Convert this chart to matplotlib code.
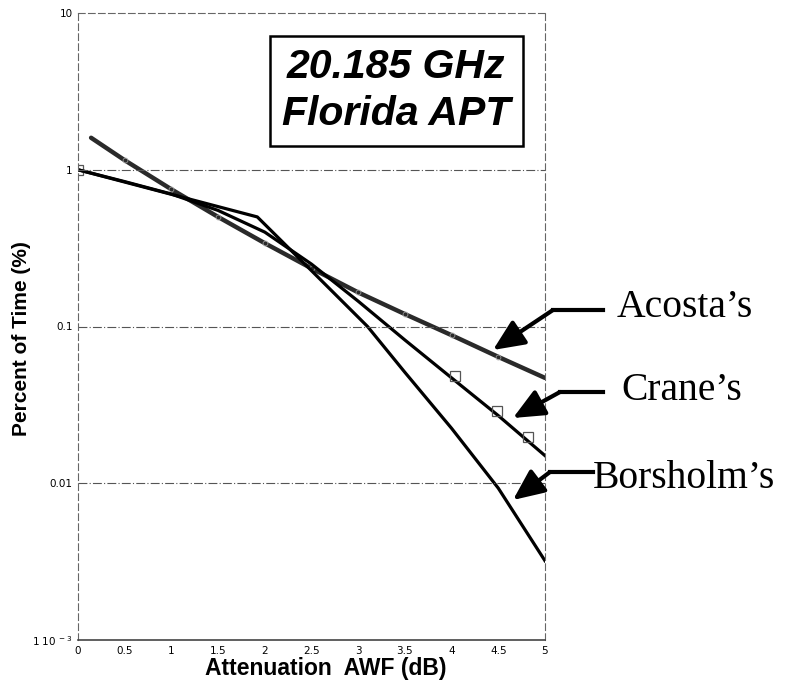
import numpy as np
import matplotlib
matplotlib.use("Agg")
import matplotlib.pyplot as plt
from matplotlib.lines import Line2D

# values (percent of time vs attenuation)
acosta_x = [0.14, 0.5, 1.0, 1.5, 2.0, 2.5, 3.0, 3.5, 4.0, 4.5, 5.0]
acosta_y = [1.6, 1.15, 0.75, 0.50, 0.34, 0.235, 0.165, 0.12, 0.088, 0.064, 0.047]

crane_x = [0.0, 0.5, 1.0, 1.5, 2.0, 2.5, 3.0, 3.5, 4.0, 4.5, 5.0]
crane_y = [1.0, 0.84, 0.70, 0.55, 0.40, 0.25, 0.145, 0.082, 0.047, 0.027, 0.015]
crane_pts_x = [0.0, 4.04, 4.49, 4.82]
crane_pts_y = [1.0, 0.048, 0.029, 0.0197]

bors_x = [0.0, 1.92, 2.5, 3.1, 3.5, 4.0, 4.5, 5.0]
bors_y = [1.0, 0.5, 0.227, 0.1, 0.051, 0.0224, 0.0093, 0.0032]

xticks = [0, 0.5, 1, 1.5, 2, 2.5, 3, 3.5, 4, 4.5, 5]
xtick_labels = ["0", "0.5", "1", "1.5", "2", "2.5", "3", "3.5", "4", "4.5", "5"]
yticks = [1e-3, 0.01, 0.1, 1, 10]
ytick_labels = [r"1 10$^{\ -3}$", "0.01", "0.1", "1", "10"]

fig = plt.figure(figsize=(7.85, 6.84), dpi=100)
ax = fig.add_axes([78/785, 1 - 640/684, 467/785, 627/684])

ax.plot(acosta_x, acosta_y, color="#2a2a2a", lw=3.2, solid_capstyle="round")
ax.plot(acosta_x[1:-1], acosta_y[1:-1], "o", ms=3.5, mfc="none", mec="#999999", mew=0.6)
ax.plot(crane_x, crane_y, color="black", lw=2.3)
ax.plot(crane_pts_x, crane_pts_y, "s", ms=7, mfc="none", mec="#555555", mew=0.9)
ax.plot(bors_x, bors_y, color="black", lw=2.3)

ax.set_yscale("log")
ax.set_xlim(0, 5)
ax.set_ylim(1e-3, 10)
ax.set_xticks(xticks)
ax.set_xticklabels(xtick_labels, fontsize=7.5)
ax.set_yticks(yticks)
ax.set_yticklabels(ytick_labels, fontsize=7.5)
ax.minorticks_off()
ax.tick_params(length=0, pad=4)
for v in [0.01, 0.1, 1]:
    ax.axhline(v, color="#555555", lw=0.8, ls=(0, (8, 2, 1, 2)))
for s in ["top", "left", "right"]:
    ax.spines[s].set_linestyle((0, (6, 3)))
    ax.spines[s].set_color("#666666")
    ax.spines[s].set_linewidth(0.8)
ax.spines["bottom"].set_color("#444444")
ax.spines["bottom"].set_linewidth(1.2)

ax.set_xlabel("Attenuation  AWF (dB)", fontsize=16.5, fontweight="bold",
              family="Liberation Sans", va="center")
ax.xaxis.set_label_coords((326 - 78) / 467, -29 / 627)
ax.set_ylabel("Percent of Time (%)", fontsize=15, fontweight="bold",
              family="Liberation Sans", va="center")
ax.yaxis.set_label_coords(-56 / 467, (640 - 339) / 627)

ax.text(0.681, 0.876, "20.185 GHz\nFlorida APT", transform=ax.transAxes,
        ha="center", va="center", fontsize=29.5, fontweight="bold",
        style="italic", family="Liberation Sans", linespacing=1.3,
        bbox=dict(boxstyle="square,pad=0.3", fc="white", ec="black", lw=1.8))

# curve labels with elbow arrows (figure pixel coordinates)
def px(x, y):
    return (x / 785, 1 - y / 684)

labels = [("Acosta\u2019s", (617, 308), (603, 310), (553, 310), (493, 350)),
          ("Crane\u2019s", (621, 390), (603, 392), (560, 392), (513, 418)),
          ("Borsholm\u2019s", (593, 478), (593, 472), (550, 472), (513, 500))]
for txt, tpos, p0, p1, tip in labels:
    fig.text(*px(*tpos), txt, fontsize=28.5, family="Liberation Serif",
             ha="left", va="center")
    fig.add_artist(Line2D([px(*p0)[0], px(*p1)[0]], [px(*p0)[1], px(*p1)[1]],
                          color="black", lw=3, transform=fig.transFigure))
    ax.annotate("", xy=px(*tip), xycoords="figure fraction",
                xytext=px(*p1), textcoords="figure fraction",
                arrowprops=dict(arrowstyle="-|>,head_length=1.9,head_width=0.85",
                                color="black", lw=3, shrinkA=0, shrinkB=0))

fig.savefig("out.png", dpi=100)
